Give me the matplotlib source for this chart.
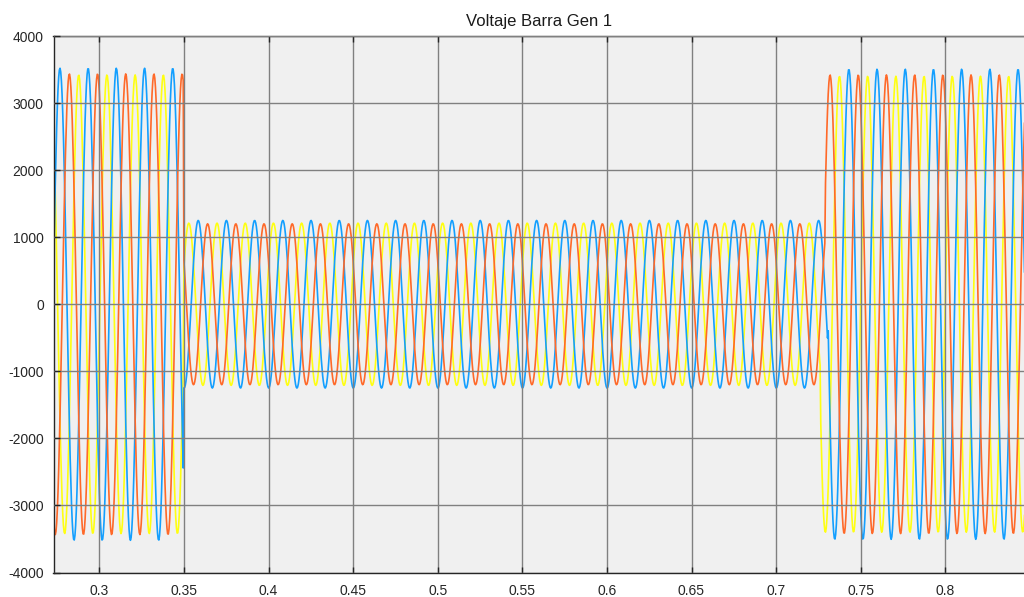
import numpy as np
import matplotlib
matplotlib.use("Agg")
import matplotlib.pyplot as plt

# values
title = "Voltaje Barra Gen 1"
f_hz = 60.0
ts = 4e-4                      # sample step of the trace
t_start, t_end = 0.27, 0.85
t_fault = 0.35                 # fault applied
# fault cleared (per phase)
t_clear = {"yellow": 0.7264, "blue": 0.7305, "red": 0.7292}

# peak amplitudes per segment: pre-fault, fault, post-fault
amp = {
    "yellow": [3420, 1210, 3400],
    "blue":   [3520, 1250, 3505],
    "red":    [3435, 1200, 3420],
}
# time of a blue peak in each segment (phase reference)
t_peak_blue = [0.2934, 0.2918, 0.2930]
# offset of each phase peak from the blue one (s)
shift = {"yellow": -1 / 180, "blue": 0.0, "red": -2 / 180}

colors = {"yellow": "#FFFF11", "blue": "#139FFF", "red": "#FF6929"}

xticks = [0.3, 0.35, 0.4, 0.45, 0.5, 0.55, 0.6, 0.65, 0.7, 0.75, 0.8]
yticks = [-4000, -3000, -2000, -1000, 0, 1000, 2000, 3000, 4000]

t = np.arange(t_start, t_end, ts)


def phase(name):
    seg = np.where(t < t_fault, 0, np.where(t < t_clear[name], 1, 2))
    a = np.array(amp[name])[seg]
    tp = np.array(t_peak_blue)[seg] + shift[name]
    return a * np.cos(2 * np.pi * f_hz * (t - tp))


plt.rcParams["font.family"] = ["Liberation Sans", "DejaVu Sans"]
plt.rcParams["axes.unicode_minus"] = False

fig = plt.figure(figsize=(10.24, 5.97), dpi=100)
ax = fig.add_axes([53.5 / 1024, 1 - 572.5 / 597, (1024 - 53.5) / 1024, (572.5 - 36) / 597])
ax.set_facecolor("#F0F0F0")

for name in ["yellow", "blue", "red"]:
    ax.plot(t, phase(name), color=colors[name], lw=1.2)

x_left = 0.3 - (99.3 - 53.5) / 1692
x_right = 0.3 + (1024 - 99.3) / 1692
ax.set_xlim(x_left, x_right)
ax.set_ylim(-4000, 4000)
ax.set_xticks(xticks)
ax.set_xticklabels([f"{v:g}" for v in xticks])
ax.set_yticks(yticks)
ax.set_yticklabels([str(v) for v in yticks])

ax.grid(True, color="#808080", lw=1.0)
ax.set_axisbelow(False)
for s in ["left", "bottom", "top"]:
    ax.spines[s].set_color("#262626")
    ax.spines[s].set_linewidth(1.0)
ax.spines["right"].set_visible(False)
ax.tick_params(direction="in", length=4, width=1, colors="#262626",
               labelsize=10, labelcolor="#262626", top=True)
ax.tick_params(axis="x", pad=8)
ax.tick_params(axis="y", pad=7)

ax.set_title(title, fontsize=12, color="#1a1a1a", pad=7)

fig.savefig("out.png", dpi=100)
